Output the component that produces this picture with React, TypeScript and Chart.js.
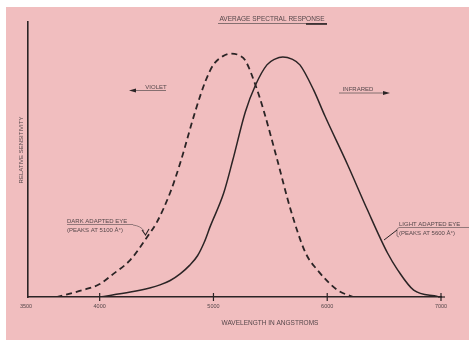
import React, { useEffect, useRef } from "react";
import { Chart, registerables } from "chart.js";

Chart.register(...registerables);

// Dark-adapted eye (dashed), wavelength in Å vs relative sensitivity
const darkWavelength = [3620, 3850, 4000, 4120, 4270, 4420, 4500, 4620, 4710, 4840, 4930, 5000, 5080, 5150, 5220, 5280, 5370, 5440, 5560, 5680, 5810, 5910, 6090, 6230];
const darkSensitivity = [0, 2.5, 4.7, 8.4, 13.5, 22, 27, 38, 49, 67.5, 78.5, 84.5, 87.5, 88.5, 88, 86, 77, 68, 50, 31.5, 16, 10, 2.5, 0];

// Light-adapted eye (solid)
const lightWavelength = [4000, 4270, 4440, 4530, 4620, 4710, 4790, 4860, 4920, 4970, 5090, 5170, 5280, 5370, 5470, 5540, 5610, 5690, 5760, 5880, 5980, 6180, 6350, 6530, 6620, 6760, 6970];
const lightSensitivity = [0, 1.8, 3.3, 4.4, 6.0, 8.5, 11.5, 15, 20, 25.5, 37.8, 49.8, 67.3, 77.1, 84.4, 86.5, 87.3, 86.5, 84.4, 75.3, 65.8, 48, 32, 16, 9.8, 2.5, 0.2];

// Axis ticks (the drawn origin carries the label "3500")
const tickValues = [3370, 4000, 5000, 6000, 7000];
const tickLabels = ["3500", "4000", "5000", "6000", "7000"];

const chartTitle = "AVERAGE SPECTRAL RESPONSE";
const xTitle = "WAVELENGTH IN ANGSTROMS";
const yTitle = "RELATIVE SENSITIVITY";
const darkNote = ["DARK ADAPTED EYE", "(PEAKS AT 5100 Å°)"];
const lightNote = ["LIGHT ADAPTED EYE", "(PEAKS AT 5600 Å°)"];
const violetLabel = "VIOLET";
const infraredLabel = "INFRARED";

const W = 469;
const H = 347;
const PINK = "#F1BEBF";
const INK = "#2b2425";
const TEXT = "#55474a";

const paperPlugin = {
  id: "paper",
  beforeDraw(chart: any) {
    const ctx = chart.ctx;
    ctx.save();
    ctx.fillStyle = "#ffffff";
    ctx.fillRect(0, 0, W, H);
    ctx.fillStyle = PINK;
    ctx.fillRect(6, 7, W - 6, 333);
    ctx.restore();
  },
  afterDraw(chart: any) {
    const ctx = chart.ctx;
    const xs = chart.scales.x;
    const ys = chart.scales.y;
    const y0 = ys.getPixelForValue(0);
    ctx.save();
    ctx.fillStyle = TEXT;
    ctx.strokeStyle = INK;

    // tick crosses and labels
    ctx.font = '5.5px "Liberation Sans"';
    ctx.textAlign = "center";
    ctx.textBaseline = "middle";
    tickValues.forEach((v, i) => {
      const px = xs.getPixelForValue(v);
      if (i > 0) {
        ctx.lineWidth = 1.2;
        ctx.beginPath();
        ctx.moveTo(px, y0 - 4);
        ctx.lineTo(px, y0 + 4);
        ctx.stroke();
      }
      ctx.fillText(tickLabels[i], px - (i === 0 ? 2 : 0), y0 + 9);
    });
    // small end cross
    const xe = xs.getPixelForValue(7000);
    ctx.beginPath();
    ctx.moveTo(xe - 3, y0);
    ctx.lineTo(xe + 4, y0);
    ctx.stroke();

    // title
    ctx.font = '6.5px "Liberation Sans"';
    ctx.fillStyle = TEXT;
    ctx.fillText(chartTitle, 272, 19);
    ctx.lineWidth = 0.8;
    ctx.strokeStyle = "#6a5a5c";
    ctx.beginPath();
    ctx.moveTo(218, 23.5);
    ctx.lineTo(327, 23.5);
    ctx.stroke();
    ctx.lineWidth = 1.6;
    ctx.strokeStyle = INK;
    ctx.beginPath();
    ctx.moveTo(306, 24);
    ctx.lineTo(327, 24);
    ctx.stroke();

    // x title
    ctx.font = '6.5px "Liberation Sans"';
    ctx.fillText(xTitle, 270, 323);

    // y title
    ctx.save();
    ctx.translate(21, 150);
    ctx.rotate(-Math.PI / 2);
    ctx.font = '6px "Liberation Sans"';
    ctx.fillText(yTitle, 0, 0);
    ctx.restore();

    // VIOLET arrow
    ctx.font = '6px "Liberation Sans"';
    ctx.fillText(violetLabel, 156, 87);
    ctx.lineWidth = 0.8;
    ctx.strokeStyle = "#6a5a5c";
    ctx.beginPath();
    ctx.moveTo(134, 90.5);
    ctx.lineTo(166, 90.5);
    ctx.stroke();
    ctx.fillStyle = INK;
    ctx.beginPath();
    ctx.moveTo(129, 90.5);
    ctx.lineTo(136, 88.5);
    ctx.lineTo(136, 92.5);
    ctx.closePath();
    ctx.fill();

    // INFRARED arrow
    ctx.fillStyle = TEXT;
    ctx.fillText(infraredLabel, 358, 89.5);
    ctx.strokeStyle = "#6a5a5c";
    ctx.beginPath();
    ctx.moveTo(339, 93);
    ctx.lineTo(385, 93);
    ctx.stroke();
    ctx.fillStyle = INK;
    ctx.beginPath();
    ctx.moveTo(390, 93);
    ctx.lineTo(383, 91);
    ctx.lineTo(383, 95);
    ctx.closePath();
    ctx.fill();

    // dark adapted note
    ctx.fillStyle = TEXT;
    ctx.font = '6px "Liberation Sans"';
    ctx.textAlign = "left";
    ctx.fillText(darkNote[0], 67, 221);
    ctx.fillText(darkNote[1], 67, 230);
    ctx.strokeStyle = "#6a5a5c";
    ctx.lineWidth = 0.7;
    ctx.beginPath();
    ctx.moveTo(67, 224.5);
    ctx.lineTo(133, 224.5);
    ctx.stroke();
    ctx.beginPath();
    ctx.moveTo(133, 225);
    ctx.quadraticCurveTo(141, 226, 144, 231);
    ctx.stroke();
    ctx.strokeStyle = INK;
    ctx.lineWidth = 1.1;
    ctx.beginPath();
    ctx.moveTo(142, 230);
    ctx.lineTo(145.5, 235);
    ctx.lineTo(149, 229);
    ctx.stroke();

    // light adapted note
    ctx.fillStyle = TEXT;
    ctx.fillText(lightNote[0], 399, 224);
    ctx.fillText(lightNote[1], 399, 233);
    ctx.strokeStyle = "#6a5a5c";
    ctx.lineWidth = 0.7;
    ctx.beginPath();
    ctx.moveTo(399, 227.5);
    ctx.lineTo(469, 227.5);
    ctx.stroke();
    ctx.beginPath();
    ctx.moveTo(399, 227.5);
    ctx.lineTo(397, 229);
    ctx.lineTo(397, 236);
    ctx.lineTo(399, 237);
    ctx.stroke();
    ctx.strokeStyle = INK;
    ctx.lineWidth = 1;
    ctx.beginPath();
    ctx.moveTo(397, 230);
    ctx.lineTo(384, 240);
    ctx.stroke();

    ctx.restore();
  },
};

export default function App() {
  const ref = useRef<HTMLCanvasElement | null>(null);

  useEffect(() => {
    document.body.style.margin = "0";
    const canvas = ref.current;
    if (!canvas) return;
    const chart = new Chart(canvas, {
      type: "line",
      data: {
        datasets: [
          {
            label: "Dark adapted eye",
            data: darkWavelength.map((x, i) => ({ x, y: darkSensitivity[i] })),
            borderColor: INK,
            borderWidth: 1.8,
            borderDash: [6, 4],
            pointRadius: 0,
            fill: false,
            cubicInterpolationMode: "monotone",
          },
          {
            label: "Light adapted eye",
            data: lightWavelength.map((x, i) => ({ x, y: lightSensitivity[i] })),
            borderColor: INK,
            borderWidth: 1.5,
            pointRadius: 0,
            fill: false,
            cubicInterpolationMode: "monotone",
          },
        ],
      },
      options: {
        responsive: false,
        animation: false,
        devicePixelRatio: 1,
        layout: { padding: { left: 28, right: 28, top: 22, bottom: 50 } },
        plugins: {
          legend: { display: false },
          tooltip: { enabled: false },
          title: { display: false },
        },
        scales: {
          x: {
            type: "linear",
            min: 3370,
            max: 7000,
            ticks: { display: false },
            grid: { display: false, drawTicks: false },
            border: { display: true, color: INK, width: 1.6 },
          },
          y: {
            type: "linear",
            min: 0,
            max: 100,
            ticks: { display: false },
            grid: { display: false, drawTicks: false },
            border: { display: true, color: INK, width: 1.6 },
          },
        },
      },
      plugins: [paperPlugin],
    });
    return () => chart.destroy();
  }, []);

  return (
    <div style={{ position: "fixed", left: 0, top: 0, width: W, height: H }}>
      <canvas ref={ref} width={W} height={H} style={{ display: "block" }} />
    </div>
  );
}
